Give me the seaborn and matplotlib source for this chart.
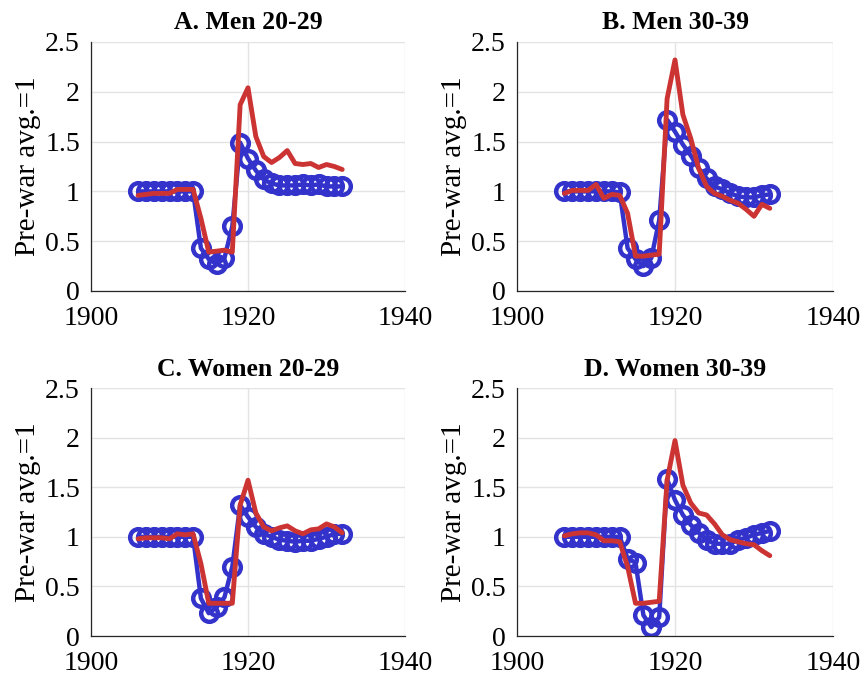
import numpy as np
import pandas as pd
import matplotlib
matplotlib.use('Agg')
import matplotlib.pyplot as plt
import seaborn as sns

# years shared by every series
years = list(range(1906, 1933))

# blue series (circles)
men2029_blue = [1.0, 1.0, 1.0, 1.0, 1.0, 1.0, 1.0, 1.0,
                0.43, 0.32, 0.27, 0.33, 0.65, 1.49, 1.33, 1.21, 1.12, 1.08,
                1.06, 1.06, 1.06, 1.07, 1.06, 1.07, 1.05, 1.05, 1.05]
men3039_blue = [1.0, 1.0, 1.0, 1.0, 1.0, 1.0, 1.0, 0.99,
                0.43, 0.32, 0.25, 0.33, 0.71, 1.72, 1.60, 1.47, 1.36, 1.23,
                1.13, 1.05, 1.02, 0.98, 0.95, 0.94, 0.94, 0.96, 0.97]
women2029_blue = [1.0, 1.0, 1.0, 1.0, 1.0, 1.0, 1.0, 1.0,
                  0.38, 0.23, 0.29, 0.39, 0.70, 1.32, 1.20, 1.10, 1.03, 1.0,
                  0.97, 0.96, 0.95, 0.96, 0.96, 0.98, 1.0, 1.03, 1.03]
women3039_blue = [1.0, 1.0, 1.0, 1.0, 1.0, 1.0, 1.0, 1.0,
                  0.78, 0.74, 0.21, 0.09, 0.19, 1.58, 1.37, 1.22, 1.12, 1.04,
                  0.97, 0.93, 0.93, 0.93, 0.97, 0.99, 1.02, 1.04, 1.06]

# red series (lines)
men2029_red = [0.96, 0.97, 0.98, 0.98, 0.98, 1.02, 1.02, 1.02,
               0.73, 0.39, 0.40, 0.41, 0.39, 1.87, 2.04, 1.55, 1.35, 1.29,
               1.34, 1.41, 1.28, 1.27, 1.28, 1.24, 1.27, 1.25, 1.22]
men3039_red = [0.98, 1.01, 1.01, 1.01, 1.07, 0.93, 0.97, 0.96,
               0.78, 0.35, 0.35, 0.36, 0.37, 1.93, 2.32, 1.77, 1.53, 1.23,
               1.05, 0.98, 0.95, 0.91, 0.88, 0.82, 0.75, 0.87, 0.83]
women2029_red = [0.98, 0.99, 0.99, 0.99, 0.98, 1.03, 1.02, 1.03,
                 0.73, 0.33, 0.33, 0.33, 0.33, 1.32, 1.57, 1.24, 1.10, 1.06,
                 1.09, 1.11, 1.06, 1.03, 1.07, 1.08, 1.13, 1.10, 1.04]
women3039_red = [1.01, 1.03, 1.04, 1.04, 1.02, 0.96, 0.96, 0.95,
                 0.70, 0.33, 0.33, 0.34, 0.35, 1.57, 1.97, 1.52, 1.34, 1.24,
                 1.22, 1.13, 1.02, 0.97, 0.95, 0.93, 0.92, 0.86, 0.81]

titles = ['A. Men 20-29', 'B. Men 30-39', 'C. Women 20-29', 'D. Women 30-39']
xticks = [1900, 1920, 1940]
yticks = [0, 0.5, 1, 1.5, 2, 2.5]
ytick_labels = ['0', '0.5', '1', '1.5', '2', '2.5']

blue = '#3333cc'
red = '#cc3333'

sns.set_style('white')
plt.rcParams['font.family'] = ['Liberation Serif', 'DejaVu Serif']
plt.rcParams['text.color'] = 'black'
plt.rcParams['axes.labelcolor'] = 'black'

fig = plt.figure(figsize=(8.63, 6.77), dpi=100)

W, H = 863, 677
boxes = [(91, 42, 405, 291), (517, 42, 833, 291),
         (91, 388, 405, 636), (517, 388, 833, 636)]
panels = [(men2029_blue, men2029_red), (men3039_blue, men3039_red),
          (women2029_blue, women2029_red), (women3039_blue, women3039_red)]

for (x0, y0, x1, y1), (b, r), title in zip(boxes, panels, titles):
    ax = fig.add_axes([x0 / W, 1 - y1 / H, (x1 - x0) / W, (y1 - y0) / H])
    sns.lineplot(x=years, y=b, ax=ax, color=blue, linewidth=3.2,
                 marker='o', markersize=12, markerfacecolor='none',
                 markeredgecolor=blue, markeredgewidth=3.2)
    sns.lineplot(x=years, y=r, ax=ax, color=red, linewidth=3.5)
    ax.set_xlim(1900, 1940)
    ax.set_ylim(0, 2.5)
    ax.set_xticks(xticks)
    ax.set_xticklabels([str(t) for t in xticks])
    ax.set_yticks(yticks)
    ax.set_yticklabels(ytick_labels)
    ax.grid(True, color='#e3e3e3', linewidth=1.0)
    ax.set_axisbelow(True)
    for side in ['top', 'right']:
        ax.spines[side].set_visible(False)
    for side in ['left', 'bottom']:
        ax.spines[side].set_color('#262626')
        ax.spines[side].set_linewidth(0.9)
    ax.tick_params(direction='in', length=4, width=0.9, labelsize=20,
                   colors='#262626', labelcolor='black')
    ax.tick_params(axis='x', pad=11)
    ax.tick_params(axis='y', pad=8)
    ax.set_title(title, fontsize=18.5, fontweight='bold', pad=9, color='black')
    ax.set_ylabel('Pre-war avg.=1', fontsize=21, labelpad=3, color='black')
    ax.set_xlabel('')

fig.savefig('out.png', dpi=100)
